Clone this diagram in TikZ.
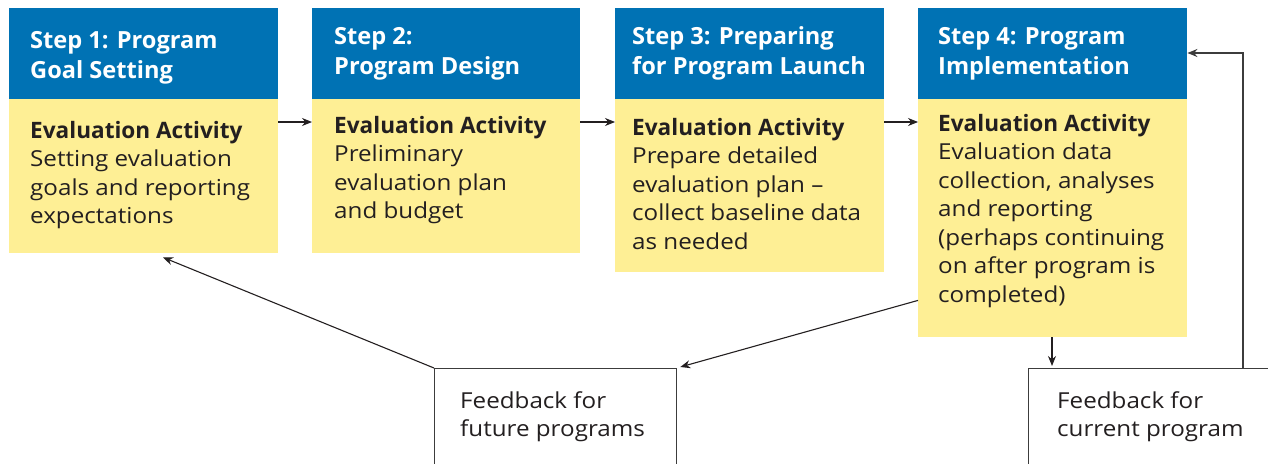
\documentclass[tikz,border=0pt]{standalone}
\usepackage{fontspec}
\setmainfont{Open Sans}
\newfontfamily\regf{Open Sans}[FakeStretch=1.10,Ligatures=TeX]
\usetikzlibrary{arrows.meta,calc}
\definecolor{hblue}{HTML}{0072B4}
\definecolor{byellow}{HTML}{FEEF95}
\definecolor{ink}{HTML}{231F20}
\definecolor{lineg}{HTML}{3C3C3C}
\newcommand{\mlines}[1]{\vtop{\halign{##\hfil\cr#1\crcr}}}
\newcommand{\evhead}{{\normalfont\bfseries\fontsize{22.6}{28.5}\selectfont Evaluation Activity}}
\begin{document}
\begin{tikzpicture}[x=1pt,y=-1pt,
  hdrbox/.style={fill=hblue,draw=none,anchor=north west,inner sep=0pt,minimum height=91pt},
  bodybox/.style={fill=byellow,draw=none,anchor=north west,inner sep=0pt},
  fbbox/.style={fill=white,draw=lineg,line width=1.3pt,anchor=north west,inner sep=0pt,minimum height=120pt},
  hdrtext/.style={anchor=base west,inner sep=0pt,text=white,font=\fontsize{23.6}{30}\selectfont\bfseries},
  bodytext/.style={anchor=base west,inner sep=0pt,text=ink,font=\regf\fontsize{22}{28.5}\selectfont},
  arr/.style={draw=ink,line width=1.1pt,-{Stealth[length=10pt,width=8pt]}},
  garr/.style={draw=lineg,line width=1.3pt,-{Stealth[length=10pt,width=8pt]}}
]
\useasboundingbox (0,0) rectangle (1268,463);
% boxes
\node[hdrbox,minimum width=269pt] (h1) at (9,8) {};
\node[hdrbox,minimum width=268pt] (h2) at (312,8) {};
\node[hdrbox,minimum width=269pt] (h3) at (615,8) {};
\node[hdrbox,minimum width=269pt] (h4) at (918,8) {};
\node[bodybox,minimum width=269pt,minimum height=154pt] (b1) at (9,99) {};
\node[bodybox,minimum width=268pt,minimum height=154pt] (b2) at (312,99) {};
\node[bodybox,minimum width=269pt,minimum height=173pt] (b3) at (615,99) {};
\node[bodybox,minimum width=269pt,minimum height=238pt] (b4) at (918,99) {};
\node[fbbox,minimum width=242pt] (f1) at (434,368) {};
\node[fbbox,minimum width=262pt] (f2) at (1028,368) {};
% header texts
\node[hdrtext] (t1) at (30,48) {\mlines{Step 1: Program\cr Goal Setting}};
\node[hdrtext] (t2) at (334,44) {\mlines{Step 2:\cr Program Design}};
\node[hdrtext] (t3) at (632,44) {\mlines{Step 3: Preparing\cr for Program Launch}};
\node[hdrtext] (t4) at (938,44) {\mlines{Step 4: Program\cr Implementation}};
% body texts
\node[bodytext] (u1) at (30,138) {\mlines{\evhead\cr Setting evaluation\cr goals and reporting\cr expectations}};
\node[bodytext] (u2) at (334,133) {\mlines{\evhead\cr Preliminary\cr evaluation plan\cr and budget}};
\node[bodytext] (u3) at (632,135) {\mlines{\evhead\cr Prepare detailed\cr evaluation plan –\cr collect baseline data\cr as needed}};
\node[bodytext] (u4) at (938,131) {\mlines{\evhead\cr Evaluation data\cr collection, analyses\cr and reporting\cr (perhaps continuing\cr on after program is\cr completed)}};
% feedback texts
\node[bodytext] (v1) at (460,408) {\mlines{Feedback for\cr future programs}};
\node[bodytext] (v2) at (1057,408) {\mlines{Feedback for\cr current program}};
% connectors
\draw[arr] ($(b1.north east)+(0,23)$) -- ($(b2.north west)+(0,23)$);
\draw[arr] ($(b2.north east)+(0,23)$) -- ($(b3.north west)+(0,23)$);
\draw[arr] ($(b3.north east)+(0,23)$) -- ($(b4.north west)+(0,23)$);
\draw[arr] ($(b4.south west)+(0,-37)$) -- ($(f1.north east)+(3,-1)$);
\draw[arr] (f1.north west) -- ($(b1.south west)+(154,4)$);
\draw[arr] ($(b4.south west)+(134,0)$) -- ($(f2.north west)+(24,-2)$);
\draw[garr] ($(f2.north west)+(215,0)$) |- ($(h4.north east)+(0,45)$);
\end{tikzpicture}
\end{document}
